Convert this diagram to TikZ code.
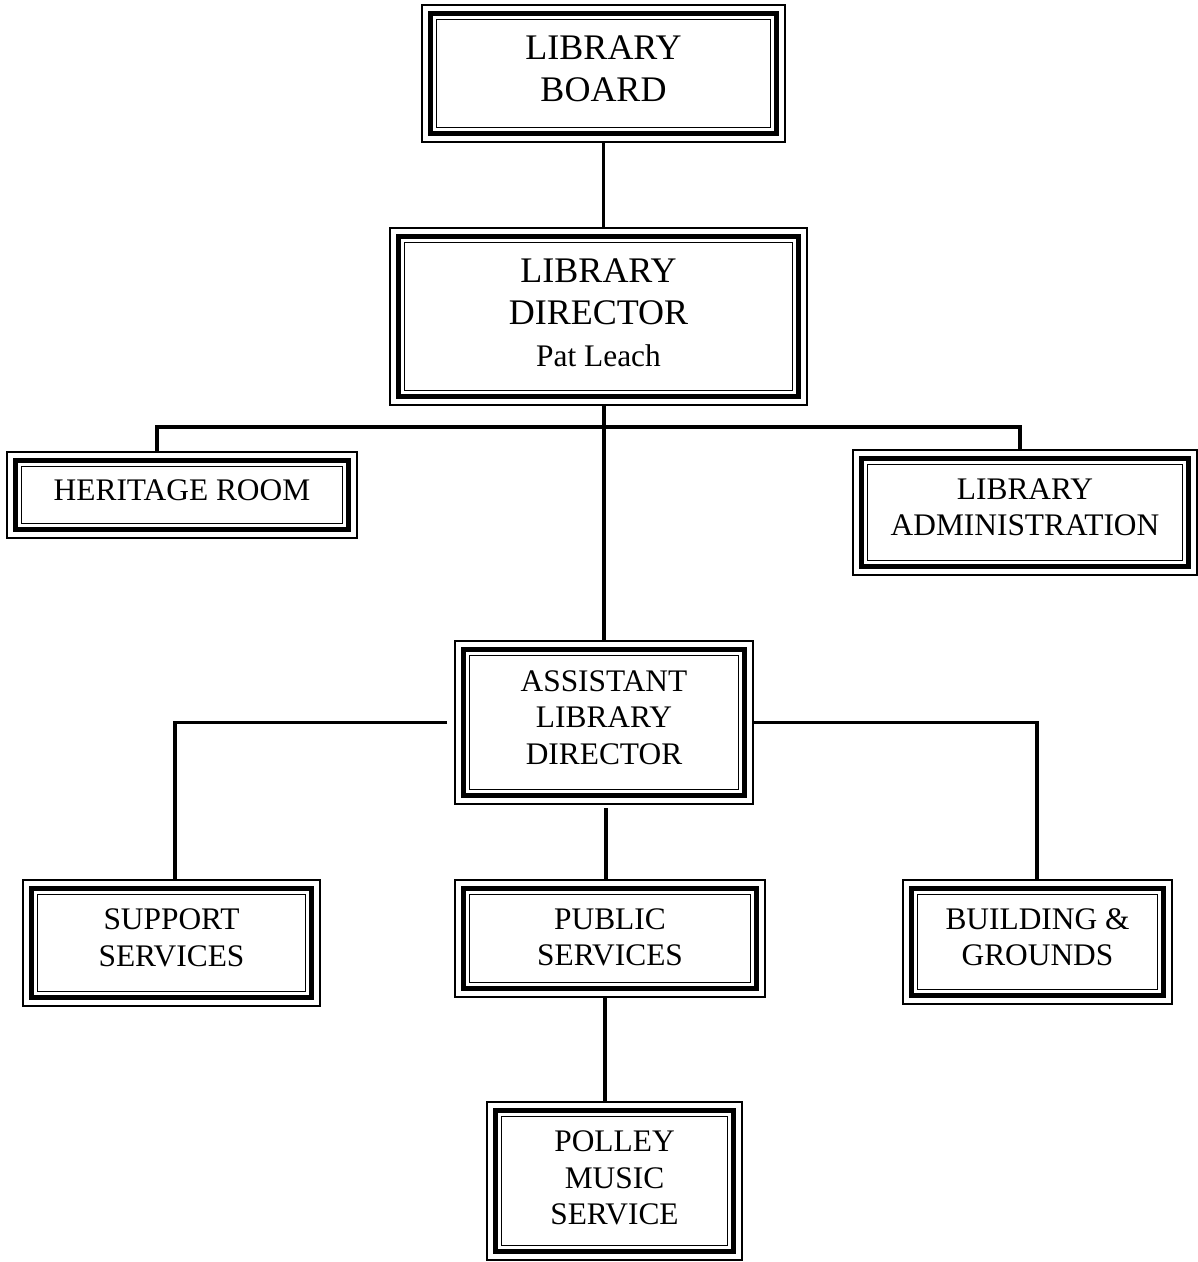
\documentclass[tikz,border=0pt]{standalone}
\usepackage{fontspec}
\setmainfont{Liberation Serif}
\begin{document}
\begin{tikzpicture}[x=1pt,y=-1pt,
  box/.style={rectangle,inner sep=0pt,outer sep=0pt,draw=none},
  big/.style={align=center,font=\fontsize{36}{42}\selectfont},
  small/.style={align=center,font=\fontsize{31.4}{36.5}\selectfont},
  conn/.style={line width=3.2pt},
  thinb/.style={line width=1.8pt},
  thickb/.style={line width=4.8pt}]
\useasboundingbox (0,0) rectangle (1198,1262);
\fill[white] (0,0) rectangle (1198,1262);
% boxes
\node[box,minimum width=363pt,minimum height=137pt] (board) at (603.5,73.5) {};
\node[box,minimum width=417pt,minimum height=177pt] (director) at (598.5,316.5) {};
\node[box,minimum width=350pt,minimum height=86pt] (heritage) at (182,495) {};
\node[box,minimum width=344pt,minimum height=125pt] (admin) at (1025,512.5) {};
\node[box,minimum width=298pt,minimum height=163pt] (asst) at (604,722.5) {};
\node[box,minimum width=297pt,minimum height=126pt] (support) at (171.5,943) {};
\node[box,minimum width=310pt,minimum height=117pt] (public) at (610,938.5) {};
\node[box,minimum width=269pt,minimum height=124pt] (building) at (1037.5,942) {};
\node[box,minimum width=255pt,minimum height=158pt] (polley) at (614.5,1181) {};
\foreach \n in {board,director,heritage,admin,asst,support,public,building,polley}{
  \draw[thinb] (\n.south west) rectangle (\n.north east);
  \draw[thickb] ([shift={(8.5pt,8.5pt)}]\n.south west) rectangle ([shift={(-8.5pt,-8.5pt)}]\n.north east);
  \draw[thinb] ([shift={(14.5pt,14.5pt)}]\n.south west) rectangle ([shift={(-14.5pt,-14.5pt)}]\n.north east);
}
% texts
\node[big] (board-t) at ([yshift=5pt]board.center) {LIBRARY\\BOARD};
\node[big] (director-t) at ([yshift=4pt]director.center) {LIBRARY\\DIRECTOR\\{\fontsize{31.4}{42}\selectfont Pat Leach}};
\node[small] (heritage-t) at ([yshift=5pt]heritage.center) {HERITAGE ROOM};
\node[small] (admin-t) at ([yshift=5pt]admin.center) {LIBRARY\\ADMINISTRATION};
\node[small] (asst-t) at ([yshift=5pt]asst.center) {ASSISTANT\\LIBRARY\\DIRECTOR};
\node[small] (support-t) at ([yshift=5pt]support.center) {SUPPORT\\SERVICES};
\node[small] (public-t) at ([yshift=1pt]public.center) {PUBLIC\\SERVICES};
\node[small] (building-t) at ([yshift=5pt]building.center) {BUILDING \&\\GROUNDS};
\node[small] (polley-t) at ([yshift=3pt]polley.center) {POLLEY\\MUSIC\\SERVICE};
% connectors
\draw[conn] (board.south) -- (board.south |- director.north);
\draw[conn] (asst.north |- director.south) -- (asst.north);
\coordinate (bus) at (604,427);
\coordinate (hTop) at ([xshift=-25pt]heritage.north);
\coordinate (aTop) at ([xshift=-5pt]admin.north);
\draw[conn] (hTop) |- (bus) -| (aTop);
\coordinate (aL) at ([xshift=-8pt]asst.west);
\coordinate (sTop) at ([xshift=3.5pt]support.north);
\draw[conn] (aL) -| (sTop);
\draw[conn] (asst.east) -| ([xshift=-0.5pt]building.north);
\coordinate (aB) at ([shift={(2pt,-4pt)}]asst.south);
\draw[conn] (aB) -- (aB |- public.north);
\coordinate (pB) at ([xshift=-5pt]public.south);
\draw[conn] (pB) -- (pB |- polley.north);
\end{tikzpicture}
\end{document}
